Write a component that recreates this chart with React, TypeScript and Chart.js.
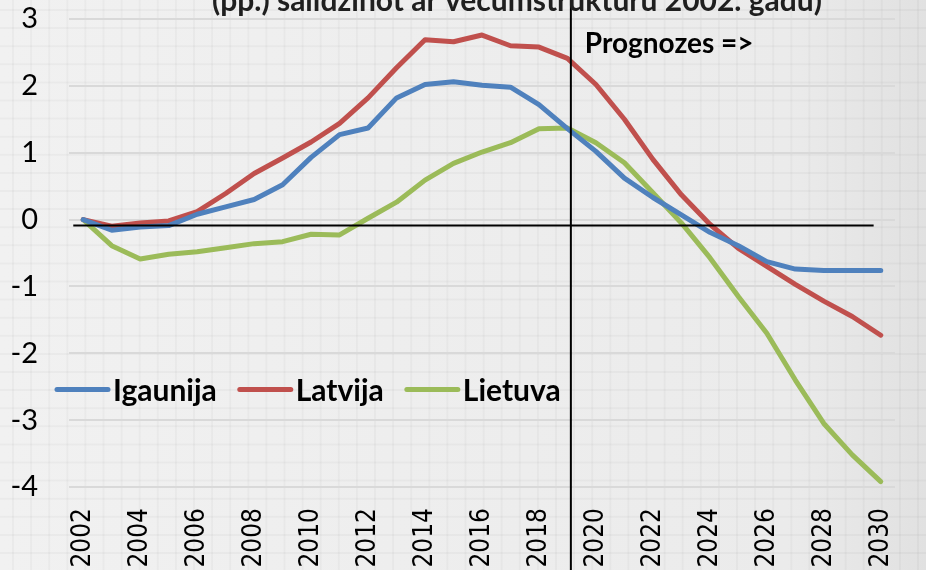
import React, { useEffect, useRef } from 'react';
import { Chart, registerables } from 'chart.js';

Chart.register(...registerables);

const years = ['2002', '2003', '2004', '2005', '2006', '2007', '2008', '2009', '2010', '2011', '2012', '2013', '2014', '2015', '2016', '2017', '2018', '2019', '2020', '2021', '2022', '2023', '2024', '2025', '2026', '2027', '2028', '2029', '2030'];
const igaunija = [0, -0.16, -0.11, -0.09, 0.08, 0.19, 0.3, 0.52, 0.93, 1.27, 1.37, 1.82, 2.02, 2.06, 2.01, 1.98, 1.72, 1.36, 1.02, 0.62, 0.33, 0.07, -0.19, -0.39, -0.63, -0.74, -0.76, -0.76, -0.76];
const latvija = [0, -0.1, -0.05, -0.02, 0.12, 0.39, 0.69, 0.92, 1.16, 1.44, 1.82, 2.27, 2.69, 2.66, 2.76, 2.6, 2.58, 2.41, 2.02, 1.5, 0.9, 0.37, -0.07, -0.43, -0.7, -0.97, -1.22, -1.45, -1.73];
const lietuva = [0, -0.39, -0.59, -0.52, -0.48, -0.42, -0.36, -0.33, -0.22, -0.23, 0.02, 0.26, 0.59, 0.84, 1.01, 1.15, 1.36, 1.37, 1.15, 0.85, 0.4, -0.05, -0.57, -1.15, -1.7, -2.4, -3.05, -3.52, -3.92];
const seriesNames = ['Igaunija', 'Latvija', 'Lietuva'];
const seriesColors = ['#4f81bd', '#c0504d', '#9bbb59'];
const titleText = '(pp.) salīdzinot ar vecumstruktūru 2002. gadu)';
const forecastText = 'Prognozes =>';
const forecastIndex = 17.12;
const zeroLineValue = -0.09;
const zeroLineFrom = -0.35;
const zeroLineTo = 27.75;
const legendValue = -2.54;

const bgPlugin = {
  id: 'bgPlugin',
  beforeDraw(chart: any) {
    const { ctx, width, height } = chart;
    ctx.save();
    const g = ctx.createLinearGradient(0, 0, width, 0);
    g.addColorStop(0, '#f1f1f1');
    g.addColorStop(0.85, '#ebebeb');
    g.addColorStop(1, '#e1e1e1');
    ctx.fillStyle = g;
    ctx.fillRect(0, 0, width, height);
    ctx.strokeStyle = 'rgba(0,0,0,0.028)';
    ctx.lineWidth = 2;
    for (let x = 13; x < width; x += 18.1) {
      ctx.beginPath();
      ctx.moveTo(x, 0);
      ctx.lineTo(x, height);
      ctx.stroke();
    }
    for (let y = 10; y < height; y += 18.1) {
      ctx.beginPath();
      ctx.moveTo(0, y);
      ctx.lineTo(width, y);
      ctx.stroke();
    }
    ctx.restore();
  },
};

const overlayPlugin = {
  id: 'overlayPlugin',
  afterDatasetsDraw(chart: any) {
    const { ctx, scales, chartArea, height } = chart;
    const xs = scales.x;
    const ys = scales.y;
    ctx.save();
    ctx.strokeStyle = '#000';
    ctx.lineWidth = 2;
    const zy = ys.getPixelForValue(zeroLineValue);
    ctx.beginPath();
    ctx.moveTo(xs.getPixelForValue(zeroLineFrom), zy);
    ctx.lineTo(xs.getPixelForValue(zeroLineTo), zy);
    ctx.stroke();
    const fx = xs.getPixelForValue(forecastIndex);
    ctx.beginPath();
    ctx.moveTo(fx, 0);
    ctx.lineTo(fx, height);
    ctx.stroke();
    ctx.fillStyle = '#000';
    ctx.font = 'bold 28px Lato';
    ctx.textAlign = 'left';
    ctx.textBaseline = 'alphabetic';
    ctx.fillText(forecastText, fx + 14, chartArea.top + 34);
    ctx.fillStyle = '#1f1f1f';
    ctx.font = 'bold 30px Lato';
    ctx.textAlign = 'center';
    ctx.fillText(titleText, 517, 11);
    const ly = ys.getPixelForValue(legendValue);
    let lx = chartArea.left - 14;
    ctx.font = 'bold 30px Lato';
    ctx.textAlign = 'left';
    ctx.textBaseline = 'middle';
    chart.data.datasets.forEach((ds: any) => {
      ctx.strokeStyle = ds.borderColor;
      ctx.lineWidth = 5;
      ctx.lineCap = 'round';
      ctx.beginPath();
      ctx.moveTo(lx + 2, ly);
      ctx.lineTo(lx + 53, ly);
      ctx.stroke();
      lx += 58;
      ctx.fillStyle = '#000';
      ctx.fillText(ds.label, lx, ly + 2);
      lx += ctx.measureText(ds.label).width + 21;
    });
    ctx.restore();
  },
};

export default function App() {
  const ref = useRef<HTMLCanvasElement>(null);
  useEffect(() => {
    document.body.style.margin = '0';
    const chart = new Chart(ref.current as HTMLCanvasElement, {
      type: 'line',
      data: {
        labels: years,
        datasets: [igaunija, latvija, lietuva].map((d, i) => ({
          label: seriesNames[i],
          data: d,
          borderColor: seriesColors[i],
          backgroundColor: seriesColors[i],
          borderWidth: 5,
          pointRadius: 0,
          tension: 0,
          borderCapStyle: 'round' as const,
          borderJoinStyle: 'round' as const,
          fill: false,
        })),
      },
      options: {
        responsive: false,
        animation: false,
        layout: { padding: { top: 19, right: 31, left: 0, bottom: 0 } },
        plugins: {
          legend: { display: false },
          title: { display: false },
          tooltip: { enabled: false },
        },
        scales: {
          x: {
            offset: true,
            grid: { display: false, drawTicks: false },
            border: { display: false },
            afterFit: (s: any) => {
              s.height = 83;
              s.paddingLeft = 0;
              s.paddingRight = 0;
            },
            ticks: {
              autoSkip: false,
              minRotation: 90,
              maxRotation: 90,
              padding: 21,
              color: '#000',
              font: { family: "'DejaVu Sans Condensed', 'DejaVu Sans'", size: 26 },
              callback: function (this: any, val: any, idx: number) {
                return idx % 2 === 0 ? this.getLabelForValue(val) : '';
              },
            },
          },
          y: {
            min: -4,
            max: 3,
            grid: { color: '#d9d9d9', lineWidth: 2, drawTicks: false },
            border: { display: false },
            afterFit: (s: any) => {
              s.width = 69;
              s.paddingTop = 0;
              s.paddingBottom = 0;
            },
            ticks: {
              stepSize: 1,
              padding: 31,
              color: '#000',
              font: { family: 'Lato', size: 29 },
            },
          },
        },
      },
      plugins: [bgPlugin, overlayPlugin],
    });
    return () => chart.destroy();
  }, []);
  return (
    <div style={{ width: 926, height: 570 }}>
      <canvas ref={ref} width={926} height={570} style={{ display: 'block' }} />
    </div>
  );
}
